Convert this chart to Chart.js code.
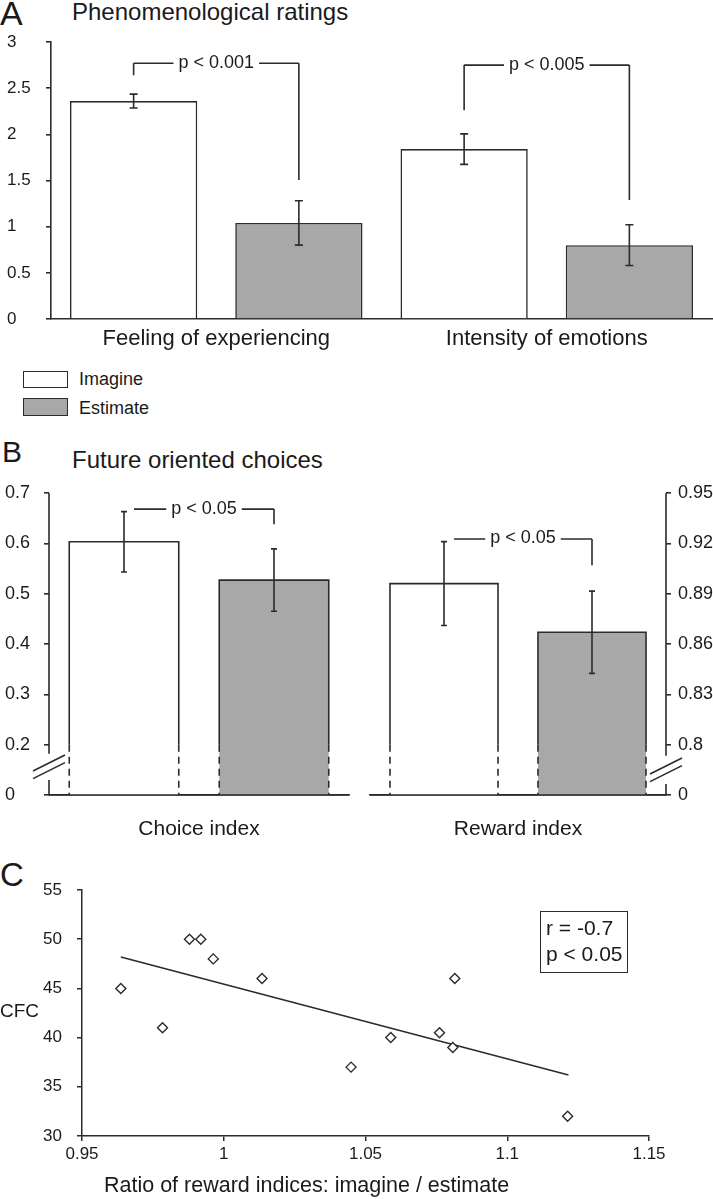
<!DOCTYPE html>
<html>
<head>
<meta charset="utf-8">
<script src="https://cdn.jsdelivr.net/npm/chart.js@4.4.1/dist/chart.umd.min.js"></script>
<style>
  body { margin: 0; background: #fff; }
  #page { position: relative; width: 713px; height: 1199px; overflow: hidden;
          font-family: "Liberation Sans", Arial, sans-serif; color: #1a1a1a; }
  .holder { position: absolute; }
  .t { position: absolute; white-space: nowrap; line-height: 1; }
  .swatch { position: absolute; width: 45px; height: 17px; box-sizing: border-box; border: 1.6px solid #2b2b2b; }
  .stats { position: absolute; box-sizing: border-box; border: 1.6px solid #2b2b2b; }
</style>
</head>
<body>
<div id="page">
  <div class="t" style="left:0;top:-4px;font-size:34px">A</div>
  <div class="t" style="left:72px;top:0px;font-size:24px">Phenomenological ratings</div>
  <div class="holder" style="left:0;top:0"><canvas id="chartA" width="713" height="360"></canvas></div>

  <div class="swatch" style="left:23px;top:371px;background:#fff"></div>
  <div class="t" style="left:79px;top:370px;font-size:18px">Imagine</div>
  <div class="swatch" style="left:23px;top:398px;height:18px;background:#a8a8a8"></div>
  <div class="t" style="left:79px;top:399px;font-size:18px">Estimate</div>

  <div class="t" style="left:2px;top:437px;font-size:30px">B</div>
  <div class="t" style="left:72px;top:448px;font-size:24px">Future oriented choices</div>
  <div class="holder" style="left:0;top:440px"><canvas id="chartB1" width="350" height="410"></canvas></div>
  <div class="holder" style="left:350px;top:440px"><canvas id="chartB2" width="363" height="410"></canvas></div>

  <div class="t" style="left:0;top:858px;font-size:33px">C</div>
  <div class="holder" style="left:0;top:860px"><canvas id="chartC" width="713" height="339"></canvas></div>
  <div class="t" style="left:0;top:1001px;font-size:19px">CFC</div>
  <div class="t" style="left:104px;top:1175px;font-size:21.5px">Ratio of reward indices: imagine / estimate</div>
  <div class="stats" style="left:540px;top:911px;width:88px;height:62px"></div>
  <div class="t" style="left:546px;top:917px;font-size:21px">r = -0.7</div>
  <div class="t" style="left:546px;top:943px;font-size:21px">p &lt; 0.05</div>
</div>

<script>
// A: phenomenological ratings
const categoriesA = ['Feeling of experiencing', 'Intensity of emotions'];
const imagineA = [2.36, 1.84];
const imagineErrA = [0.075, 0.165];
const estimateA = [1.04, 0.80];
const estimateErrA = [0.24, 0.22];
const ticksA = [0, 0.5, 1, 1.5, 2, 2.5, 3];
const bracketTopA = [2.77, 2.75];
const bracketLeftA = [2.64, 2.26];
const bracketRightA = [1.505, 1.29];
const pLabelsA = ['p < 0.001', 'p < 0.005'];

// B: future oriented choices (broken axes, the lowest tick stands for 0)
const imagineChoice = [0.603];
const imagineChoiceErr = [0.06];
const estimateChoice = [0.527];
const estimateChoiceErr = [0.062];
const ticksChoice = [0.1, 0.2, 0.3, 0.4, 0.5, 0.6, 0.7];
const labelsChoice = ['0', '0.2', '0.3', '0.4', '0.5', '0.6', '0.7'];

const imagineReward = [0.896];
const imagineRewardErr = [0.025];
const estimateReward = [0.867];
const estimateRewardErr = [0.0245];
const ticksReward = [0.77, 0.80, 0.83, 0.86, 0.89, 0.92, 0.95];
const labelsReward = ['0', '0.8', '0.83', '0.86', '0.89', '0.92', '0.95'];

// C: CFC against ratio of reward indices
const ratioX = [0.9637, 0.9784, 0.9879, 0.9919, 0.9963, 1.0135, 1.0449, 1.0589, 1.0761, 1.0808, 1.0815, 1.1213];
const cfcY = [45, 41, 50, 50, 48, 46, 37, 40, 40.5, 39, 46, 32];
const fitX = [0.9637, 1.1216];
const fitY = [48.2, 36.2];
const ticksCX = [0.95, 1, 1.05, 1.1, 1.15];
const ticksCY = [30, 35, 40, 45, 50, 55];

const ink = '#2b2b2b';
const grey = '#a8a8a8';
const lw = 1.6;

Chart.defaults.font.family = '"Liberation Sans", Arial, sans-serif';
Chart.defaults.color = '#1a1a1a';
Chart.defaults.animation = false;
Chart.defaults.plugins.legend.display = false;
Chart.defaults.plugins.tooltip.enabled = false;

function drawErrorBars(chart, cap) {
    const ctx = chart.ctx;
    ctx.save();
    ctx.strokeStyle = ink;
    ctx.lineWidth = lw;
    chart.data.datasets.forEach((ds, i) => {
        const meta = chart.getDatasetMeta(i);
        const ys = chart.scales[meta.yAxisID];
        meta.data.forEach((bar, j) => {
            const t = ys.getPixelForValue(ds.data[j] + ds.errors[j]);
            const b = ys.getPixelForValue(ds.data[j] - ds.errors[j]);
            ctx.beginPath();
            ctx.moveTo(bar.x, t); ctx.lineTo(bar.x, b);
            ctx.moveTo(bar.x - cap, t); ctx.lineTo(bar.x + cap, t);
            ctx.moveTo(bar.x - cap, b); ctx.lineTo(bar.x + cap, b);
            ctx.stroke();
        });
    });
    ctx.restore();
}

// horizontal line with the p label set into a gap in the middle
function labelledLine(ctx, x1, x2, y, text) {
    ctx.font = '18px "Liberation Sans", Arial, sans-serif';
    const w = ctx.measureText(text).width;
    const mid = (x1 + x2) / 2, gap = 5;
    ctx.beginPath();
    ctx.moveTo(x1, y); ctx.lineTo(mid - w / 2 - gap, y);
    ctx.moveTo(mid + w / 2 + gap, y); ctx.lineTo(x2, y);
    ctx.stroke();
    ctx.fillStyle = '#1a1a1a';
    ctx.textAlign = 'center';
    ctx.textBaseline = 'alphabetic';
    ctx.fillText(text, mid, y + 4.5);
}

const fixedWidth = w => scale => { scale.width = w; };
const fixedHeight = h => scale => { scale.height = h; };
const setTicks = values => scale => { scale.ticks = values.map(v => ({ value: v })); };

// ---------- A ----------
new Chart(document.getElementById('chartA'), {
    type: 'bar',
    data: {
        labels: categoriesA,
        datasets: [
            { label: 'Imagine', data: imagineA, errors: imagineErrA, backgroundColor: '#fff',
              borderColor: ink, borderWidth: lw, categoryPercentage: 1, barPercentage: 0.77 },
            { label: 'Estimate', data: estimateA, errors: estimateErrA, backgroundColor: grey,
              borderColor: ink, borderWidth: lw, categoryPercentage: 1, barPercentage: 0.77 }
        ]
    },
    options: {
        responsive: false,
        layout: { padding: { top: 42, left: 7, right: 1, bottom: 0 } },
        scales: {
            x: {
                grid: { display: false, drawTicks: false },
                border: { display: true, color: ink, width: lw },
                ticks: { font: { size: 22 }, padding: 7 },
                afterFit: fixedHeight(41)
            },
            y: {
                min: 0, max: 3,
                afterBuildTicks: setTicks(ticksA),
                ticks: { font: { size: 17 }, crossAlign: 'far', callback: v => String(v) },
                grid: { drawOnChartArea: false, tickLength: 5, color: ink, lineWidth: lw },
                border: { color: ink, width: lw },
                afterFit: fixedWidth(44)
            }
        }
    },
    plugins: [{
        id: 'annotA',
        afterDatasetsDraw(chart) {
            drawErrorBars(chart, 4);
            const ctx = chart.ctx, ys = chart.scales.y;
            const left = chart.getDatasetMeta(0).data, right = chart.getDatasetMeta(1).data;
            ctx.save();
            ctx.strokeStyle = ink;
            ctx.lineWidth = lw;
            categoriesA.forEach((c, i) => {
                const x1 = left[i].x, x2 = right[i].x;
                const y = ys.getPixelForValue(bracketTopA[i]);
                ctx.beginPath();
                ctx.moveTo(x1, ys.getPixelForValue(bracketLeftA[i])); ctx.lineTo(x1, y);
                ctx.moveTo(x2, y); ctx.lineTo(x2, ys.getPixelForValue(bracketRightA[i]));
                ctx.stroke();
                labelledLine(ctx, x1, x2, y, pLabelsA[i]);
            });
            ctx.restore();
        }
    }]
});

// ---------- B ----------
function brokenPanel(canvasId, opts) {
    new Chart(document.getElementById(canvasId), {
        type: 'bar',
        data: {
            labels: [opts.category],
            datasets: [
                { label: 'Imagine', data: opts.imagine, errors: opts.imagineErr, backgroundColor: '#fff',
                  borderWidth: 0, categoryPercentage: 1, barPercentage: 0.73 },
                { label: 'Estimate', data: opts.estimate, errors: opts.estimateErr, backgroundColor: grey,
                  borderWidth: 0, categoryPercentage: 1, barPercentage: 0.73 }
            ]
        },
        options: {
            responsive: false,
            layout: { padding: opts.padding },
            scales: {
                x: {
                    grid: { display: false, drawTicks: false },
                    border: { display: true, color: ink, width: lw },
                    ticks: { font: { size: 21 }, padding: 22 },
                    afterFit: fixedHeight(55)
                },
                y: {
                    position: opts.side,
                    min: opts.ticks[0], max: opts.ticks[opts.ticks.length - 1],
                    afterBuildTicks: setTicks(opts.ticks),
                    ticks: { font: { size: 18 }, crossAlign: opts.side === 'left' ? 'far' : 'near',
                             padding: 7, callback: (v, i) => opts.labels[i] },
                    grid: { drawOnChartArea: false, tickLength: 5, color: ink, lineWidth: lw },
                    border: { display: false },
                    afterFit: fixedWidth(opts.axisWidth)
                }
            }
        },
        plugins: [{
            id: 'brokenAxis',
            afterDatasetsDraw(chart) {
                const ctx = chart.ctx, ys = chart.scales.y, area = chart.chartArea;
                const yDash = ys.getPixelForValue(opts.ticks[1]);
                ctx.save();
                ctx.strokeStyle = ink;
                ctx.lineWidth = lw;
                // bar outlines: solid above the break, dashed below
                chart.data.datasets.forEach((ds, i) => {
                    chart.getDatasetMeta(i).data.forEach(bar => {
                        const l = bar.x - bar.width / 2, r = bar.x + bar.width / 2;
                        const base = Math.min(bar.base, area.bottom);
                        ctx.setLineDash([]);
                        ctx.beginPath();
                        ctx.moveTo(l, yDash); ctx.lineTo(l, bar.y); ctx.lineTo(r, bar.y); ctx.lineTo(r, yDash);
                        ctx.stroke();
                        ctx.setLineDash([7, 5]);
                        ctx.beginPath();
                        ctx.moveTo(l, yDash); ctx.lineTo(l, base);
                        ctx.moveTo(r, yDash); ctx.lineTo(r, base);
                        ctx.stroke();
                    });
                });
                ctx.setLineDash([]);
                // category axis drawn again over the bar fills
                ctx.beginPath();
                ctx.moveTo(area.left, area.bottom); ctx.lineTo(area.right, area.bottom);
                ctx.stroke();
                // value axis with a gap and a double slash
                const ax = opts.side === 'left' ? area.left : area.right;
                const yHi = ys.getPixelForValue(opts.breakHi), yLo = ys.getPixelForValue(opts.breakLo);
                ctx.beginPath();
                ctx.moveTo(ax, area.top); ctx.lineTo(ax, yHi);
                ctx.moveTo(ax, yLo); ctx.lineTo(ax, area.bottom);
                const mid = (yHi + yLo) / 2;
                [-3.8, 3.8].forEach(d => {
                    ctx.moveTo(ax - 16, mid + d + 8);
                    ctx.lineTo(ax + 16, mid + d - 8);
                });
                ctx.stroke();
                ctx.restore();

                drawErrorBars(chart, 3);

                // significance bracket
                const b0 = chart.getDatasetMeta(0).data[0], b1 = chart.getDatasetMeta(1).data[0];
                const y = ys.getPixelForValue(opts.bracketTop);
                ctx.save();
                ctx.strokeStyle = ink;
                ctx.lineWidth = lw;
                labelledLine(ctx, b0.x + 10, b1.x, y, opts.pLabel);
                ctx.beginPath();
                ctx.moveTo(b1.x, y); ctx.lineTo(b1.x, ys.getPixelForValue(opts.bracketEnd));
                ctx.stroke();
                ctx.restore();
            }
        }]
    });
}

brokenPanel('chartB1', {
    category: 'Choice index', side: 'left',
    imagine: imagineChoice, imagineErr: imagineChoiceErr,
    estimate: estimateChoice, estimateErr: estimateChoiceErr,
    ticks: ticksChoice, labels: labelsChoice,
    breakHi: 0.182, breakLo: 0.13,
    bracketTop: 0.668, bracketEnd: 0.638, pLabel: 'p < 0.05',
    padding: { top: 53, left: 5, right: 1, bottom: 0 }, axisWidth: 44
});

brokenPanel('chartB2', {
    category: 'Reward index', side: 'right',
    imagine: imagineReward, imagineErr: imagineRewardErr,
    estimate: estimateReward, estimateErr: estimateRewardErr,
    ticks: ticksReward, labels: labelsReward,
    breakHi: 0.7934, breakLo: 0.7766,
    bracketTop: 0.9226, bracketEnd: 0.907, pLabel: 'p < 0.05',
    padding: { top: 53, left: 20, right: 0, bottom: 0 }, axisWidth: 47
});

// ---------- C ----------
new Chart(document.getElementById('chartC'), {
    type: 'scatter',
    data: {
        datasets: [
            { label: 'Participants', data: ratioX.map((x, i) => ({ x: x, y: cfcY[i] })),
              pointStyle: 'rectRot', pointRadius: 5, borderWidth: 1.4,
              borderColor: ink, backgroundColor: '#fff' },
            { type: 'line', label: 'Fit', data: fitX.map((x, i) => ({ x: x, y: fitY[i] })),
              borderColor: ink, borderWidth: lw, pointRadius: 0, fill: false }
        ]
    },
    options: {
        responsive: false,
        layout: { padding: { top: 30, left: 0, right: 64, bottom: 0 } },
        scales: {
            x: {
                type: 'linear', min: 0.95, max: 1.15,
                afterBuildTicks: setTicks(ticksCX),
                ticks: { font: { size: 17 }, padding: 3, callback: v => String(+v.toFixed(2)) },
                grid: { drawOnChartArea: false, tickLength: 5, color: ink, lineWidth: 1.5 },
                border: { color: ink, width: 1.5 },
                afterFit: fixedHeight(63)
            },
            y: {
                min: 30, max: 55,
                afterBuildTicks: setTicks(ticksCY),
                ticks: { font: { size: 17 }, padding: 15 },
                grid: { drawOnChartArea: false, tickLength: 5, color: ink, lineWidth: 1.5 },
                border: { color: ink, width: 1.5 },
                afterFit: fixedWidth(82)
            }
        }
    }
});
</script>
</body>
</html>
